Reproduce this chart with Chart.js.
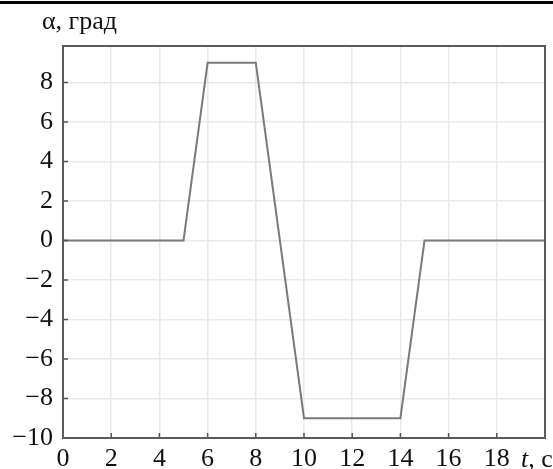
<!DOCTYPE html>
<html>
<head>
<meta charset="utf-8">
<script src="https://cdn.jsdelivr.net/npm/chart.js@4.4.1/dist/chart.umd.min.js"></script>
<style>
  html, body { margin: 0; padding: 0; background: #fff; }
  #wrap { position: relative; width: 553px; height: 469px; }
</style>
</head>
<body>
<div id="wrap"><canvas id="grafica" width="553" height="469"></canvas></div>
<script>
// Datos
const tiempos = [0, 5, 6, 8, 10, 14, 15, 20];
const angulos = [0, 0, 9, 9, -9, -9, 0, 0];
const ticksX = [0, 2, 4, 6, 8, 10, 12, 14, 16, 18, 20];
const ticksY = [-10, -8, -6, -4, -2, 0, 2, 4, 6, 8];
const tituloY = 'α, град';

const fuente = '"Liberation Serif", "DejaVu Serif", serif';
const tamFuente = 26;

// Marco, marcas interiores, regla superior y etiqueta del eje t
const decoracion = {
  id: 'decoracion',
  afterDraw(chart) {
    const { ctx, chartArea: a, scales } = chart;
    ctx.save();
    // regla negra superior
    ctx.fillStyle = '#000';
    ctx.fillRect(0, 1, chart.width, 3);

    // marcas interiores
    ctx.strokeStyle = '#555';
    ctx.lineWidth = 1.5;
    ctx.beginPath();
    ticksX.forEach(v => {
      const x = scales.x.getPixelForValue(v);
      ctx.moveTo(x, a.bottom);
      ctx.lineTo(x, a.bottom - 5);
    });
    ticksY.forEach(v => {
      const y = scales.y.getPixelForValue(v);
      ctx.moveTo(a.left, y);
      ctx.lineTo(a.left + 5, y);
    });
    ctx.stroke();

    // marco
    ctx.strokeStyle = '#5a5a5a';
    ctx.lineWidth = 2;
    ctx.strokeRect(a.left, a.top, a.right - a.left, a.bottom - a.top);

    // títulos
    ctx.fillStyle = '#111';
    ctx.textBaseline = 'alphabetic';
    ctx.textAlign = 'left';
    ctx.font = tamFuente + 'px ' + fuente;
    ctx.fillText(tituloY, 42, 29);

    const yBase = 467;
    ctx.font = 'italic ' + tamFuente + 'px ' + fuente;
    ctx.fillText('t', 521, yBase);
    const w = ctx.measureText('t').width;
    ctx.font = tamFuente + 'px ' + fuente;
    ctx.fillText(', c', 521 + w, yBase);
    ctx.restore();
  }
};

new Chart(document.getElementById('grafica').getContext('2d'), {
  type: 'line',
  data: {
    datasets: [{
      data: tiempos.map((t, i) => ({ x: t, y: angulos[i] })),
      borderColor: '#7a7a7a',
      borderWidth: 2,
      pointRadius: 0,
      tension: 0,
      fill: false
    }]
  },
  options: {
    responsive: false,
    animation: false,
    events: [],
    layout: { padding: { top: 46, right: 7, left: 0, bottom: 0 } },
    plugins: {
      legend: { display: false },
      tooltip: { enabled: false }
    },
    scales: {
      x: {
        type: 'linear',
        min: 0,
        max: 20,
        afterFit(scale) { scale.height = 31; },
        afterBuildTicks(scale) { scale.ticks = ticksX.map(v => ({ value: v })); },
        ticks: {
          color: '#111',
          font: { family: fuente, size: tamFuente, lineHeight: 1 },
          padding: 8,
          maxRotation: 0,
          autoSkip: false,
          callback: (v) => v === 20 ? '' : String(v)
        },
        grid: {
          color: '#e9e9e9',
          lineWidth: 1.5,
          drawTicks: false
        },
        border: { display: false }
      },
      y: {
        type: 'linear',
        min: -10,
        max: 9.85,
        afterFit(scale) { scale.width = 63; },
        afterBuildTicks(scale) { scale.ticks = ticksY.map(v => ({ value: v })); },
        ticks: {
          color: '#111',
          font: { family: fuente, size: tamFuente },
          padding: 10,
          autoSkip: false,
          callback: (v) => v < 0 ? '\u2212' + Math.abs(v) : String(v)
        },
        grid: {
          color: '#e9e9e9',
          lineWidth: 1.5,
          drawTicks: false
        },
        border: { display: false }
      }
    }
  },
  plugins: [decoracion]
});
</script>
</body>
</html>
